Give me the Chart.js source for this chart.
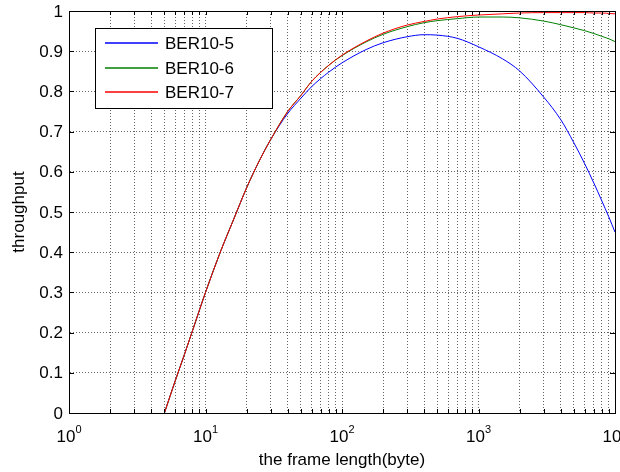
<!DOCTYPE html>
<html>
<head>
<meta charset="utf-8">
<script src="https://cdn.jsdelivr.net/npm/chart.js@4.4.1/dist/chart.umd.min.js"></script>
<style>
html, body { margin: 0; padding: 0; background: #fff; }
#wrap { width: 620px; height: 472px; }
</style>
</head>
<body>
<div id="wrap"><canvas id="chart" width="620" height="472"></canvas></div>
<script>
// frame length (byte) and throughput
const frameLen = [5, 6, 7, 8, 10, 13, 16, 20, 25, 30, 40, 50, 60, 80, 100, 150, 200, 300, 400, 500,
    700, 1000, 1500, 2000, 3000, 4000, 5000, 6000, 7000, 8000, 9000, 10000];
const ber5 = [0, 0.08, 0.145, 0.203, 0.30, 0.405, 0.48, 0.56, 0.63, 0.68, 0.745, 0.783, 0.812, 0.848, 0.871, 0.904,
    0.921, 0.936, 0.941, 0.94, 0.932, 0.911, 0.881, 0.851, 0.786, 0.73, 0.672, 0.62, 0.572, 0.528, 0.488, 0.45];
const ber6 = [0, 0.08, 0.145, 0.203, 0.30, 0.405, 0.48, 0.56, 0.63, 0.68, 0.75, 0.79, 0.825, 0.865, 0.889, 0.923,
    0.942, 0.961, 0.971, 0.976, 0.981, 0.985, 0.985, 0.983, 0.975, 0.966, 0.958, 0.951, 0.944, 0.937, 0.931, 0.924];
const ber7 = [0, 0.08, 0.145, 0.203, 0.30, 0.405, 0.48, 0.56, 0.63, 0.68, 0.75, 0.79, 0.825, 0.865, 0.89, 0.925,
    0.945, 0.965, 0.974, 0.98, 0.986, 0.99, 0.993, 0.995, 0.996, 0.996, 0.996, 0.996, 0.995, 0.995, 0.994, 0.993];

const seriesNames = ['BER10-5', 'BER10-6', 'BER10-7'];
const seriesColors = ['#0000ff', '#008000', '#ff0000'];

const yTicks = [0, 0.1, 0.2, 0.3, 0.4, 0.5, 0.6, 0.7, 0.8, 0.9, 1];
const xDecades = [0, 1, 2, 3, 4];

const FONT = '"Liberation Sans", Arial, sans-serif';

function points(ys) {
    return frameLen.map((x, i) => ({ x: x, y: ys[i] }));
}

function logTicks() {
    const t = [];
    for (let d = 0; d < 4; d++) {
        for (let m = 1; m < 10; m++) t.push({ value: m * Math.pow(10, d) });
    }
    t.push({ value: 10000 });
    return t;
}

// MATLAB-like box, inward ticks, labels and legend
const matlabAxes = {
    id: 'matlabAxes',
    afterDraw(chart) {
        const ctx = chart.ctx;
        const a = chart.chartArea;
        const xs = chart.scales.x, ys = chart.scales.y;
        ctx.save();
        ctx.setLineDash([]);
        ctx.strokeStyle = '#000';
        ctx.lineWidth = 1;
        ctx.strokeRect(Math.round(a.left) + 0.5, Math.round(a.top) + 0.5,
            Math.round(a.right - a.left), Math.round(a.bottom - a.top));

        ctx.beginPath();
        xs.ticks.forEach(t => {
            const px = Math.round(xs.getPixelForValue(t.value)) + 0.5;
            ctx.moveTo(px, a.bottom); ctx.lineTo(px, a.bottom - 4);
            ctx.moveTo(px, a.top); ctx.lineTo(px, a.top + 4);
        });
        yTicks.forEach(v => {
            const py = Math.round(ys.getPixelForValue(v)) + 0.5;
            ctx.moveTo(a.left, py); ctx.lineTo(a.left + 5, py);
            ctx.moveTo(a.right, py); ctx.lineTo(a.right - 5, py);
        });
        ctx.stroke();

        ctx.fillStyle = '#000';
        ctx.font = '17px ' + FONT;
        ctx.textAlign = 'right';
        ctx.textBaseline = 'middle';
        yTicks.forEach(v => {
            ctx.fillText(String(v), a.left - 6, ys.getPixelForValue(v) + 1);
        });

        ctx.textBaseline = 'alphabetic';
        xDecades.forEach(d => {
            const px = xs.getPixelForValue(Math.pow(10, d));
            ctx.font = '17px ' + FONT;
            const w1 = ctx.measureText('10').width;
            ctx.font = '11px ' + FONT;
            const w2 = ctx.measureText(String(d)).width;
            const x0 = px - (w1 + w2) / 2;
            ctx.textAlign = 'left';
            ctx.font = '17px ' + FONT;
            ctx.fillText('10', x0, 442);
            ctx.font = '11px ' + FONT;
            ctx.fillText(String(d), x0 + w1, 433);
        });

        ctx.font = '17px ' + FONT;
        ctx.textAlign = 'center';
        ctx.fillText('the frame length(byte)', (a.left + a.right) / 2, 465);

        ctx.save();
        ctx.translate(24, (a.top + a.bottom) / 2);
        ctx.rotate(-Math.PI / 2);
        ctx.textBaseline = 'alphabetic';
        ctx.fillText('throughput', 0, 0);
        ctx.restore();

        // legend
        ctx.fillStyle = '#fff';
        ctx.fillRect(95, 28, 177, 80);
        ctx.strokeStyle = '#000';
        ctx.strokeRect(95.5, 28.5, 177, 80);
        const rows = [43, 68, 92];
        seriesNames.forEach((name, i) => {
            ctx.strokeStyle = seriesColors[i];
            ctx.lineWidth = 1.3;
            ctx.beginPath();
            ctx.moveTo(105, rows[i]);
            ctx.lineTo(158, rows[i]);
            ctx.stroke();
            ctx.fillStyle = '#000';
            ctx.font = '17px ' + FONT;
            ctx.textAlign = 'left';
            ctx.textBaseline = 'middle';
            ctx.fillText(name, 165, rows[i] + 1);
        });
        ctx.restore();
    }
};

const ctx = document.getElementById('chart').getContext('2d');
new Chart(ctx, {
    type: 'line',
    data: {
        datasets: [ber5, ber6, ber7].map((ys, i) => ({
            label: seriesNames[i],
            data: points(ys),
            borderColor: seriesColors[i],
            backgroundColor: seriesColors[i],
            borderWidth: 1,
            pointRadius: 0,
            cubicInterpolationMode: 'monotone',
            fill: false,
            order: 3 - i
        }))
    },
    options: {
        responsive: false,
        animation: false,
        layout: { padding: { top: 11, right: 5, left: 0, bottom: 0 } },
        plugins: {
            legend: { display: false },
            tooltip: { enabled: false }
        },
        scales: {
            x: {
                type: 'logarithmic',
                min: 1,
                max: 10000,
                afterBuildTicks: scale => { scale.ticks = logTicks(); },
                afterFit: scale => { scale.height = 59; },
                ticks: { display: false, autoSkip: false },
                grid: { color: 'rgba(0,0,0,0.6)', lineWidth: 1, drawTicks: false },
                border: { color: '#000', dash: [1, 2] }
            },
            y: {
                type: 'linear',
                min: 0,
                max: 1,
                afterBuildTicks: scale => { scale.ticks = yTicks.map(v => ({ value: v })); },
                afterFit: scale => { scale.width = 69; },
                ticks: { display: false },
                grid: { color: 'rgba(0,0,0,0.6)', lineWidth: 1, drawTicks: false },
                border: { color: '#000', dash: [1, 2] }
            }
        }
    },
    plugins: [matlabAxes]
});
</script>
</body>
</html>
